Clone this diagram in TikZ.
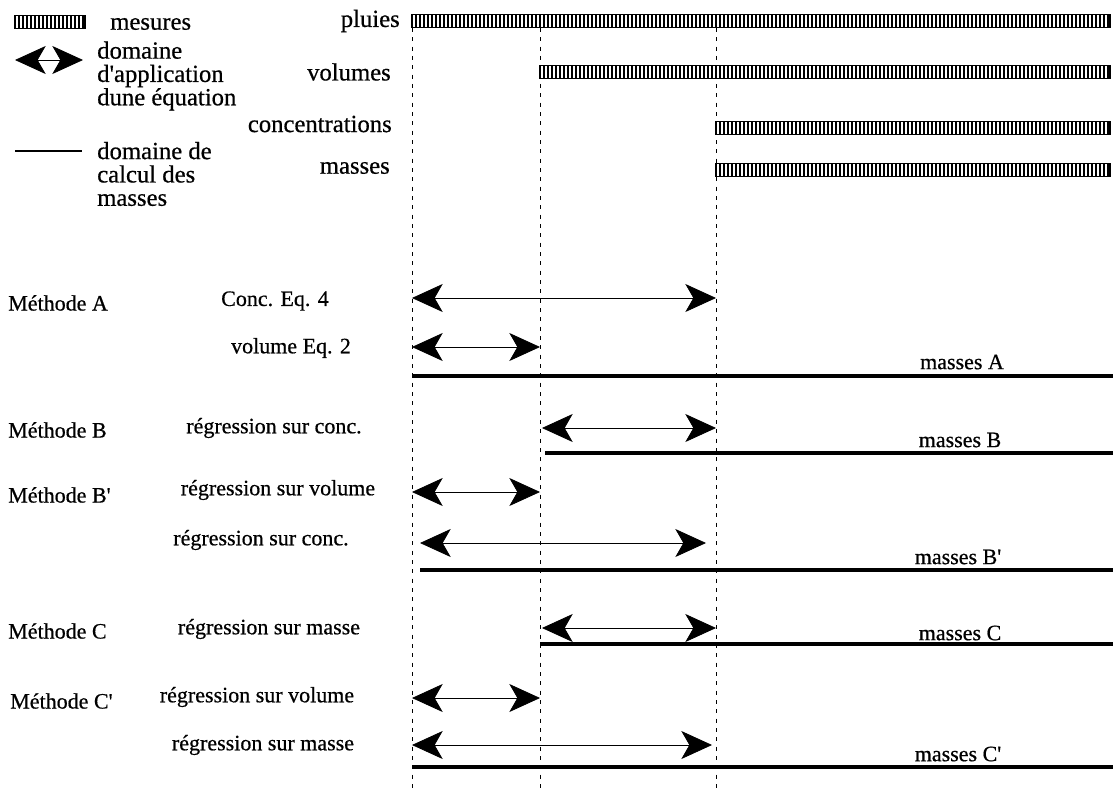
\documentclass[tikz,border=0pt]{standalone}
\usepackage{fontspec}
\setmainfont[Ligatures=TeXOff, FakeBold=0.6]{Liberation Serif}
\usetikzlibrary{arrows.meta}
\tikzset{
  lbl/.style={font=\fontsize{16.5}{18}\selectfont, inner sep=0pt},
  toplbl/.style={font=\fontsize{18.5}{17.5}\selectfont, inner sep=0pt, align=left},
  dom/.style={{Stealth[length=23pt,width=21pt,inset=6pt]}-{Stealth[length=23pt,width=21pt,inset=6pt]}, line width=0.6pt},
  calcline/.style={line width=2.5pt},
  gridline/.style={dash pattern=on 3pt off 4pt, line width=0.6pt},
}
% bande hachuree des mesures : x debut, x fin, y
\newcommand\mesbar[3]{%
  \draw[line width=1.3pt, fill=white] (#1,#3-6.5) rectangle (#2,#3+6.5);
  \pgfmathsetmacro\xsec{#1+4}
  \foreach \x in {#1,\xsec,...,#2} \draw[line width=1.6pt] (\x,#3-6.5) -- (\x,#3+6.5);
}
\begin{document}
\begin{tikzpicture}[x=0.75pt, y=-0.75pt]
  \useasboundingbox (0,0) rectangle (1113,792);
  % legende
  \mesbar{15}{85}{22}
  \node[toplbl, anchor=west] (mes) at (110,24) {mesures};
  \coordinate (lgA) at (15,60);
  \coordinate (lgB) at (83,60);
  \draw[dom] (lgA) -- (lgB);
  \node[toplbl, anchor=west] (dom) at (97,76) {domaine\\d'application\\dune équation};
  \coordinate (lgC) at (15,151);
  \coordinate (lgD) at (82,151);
  \draw[line width=2pt] (lgC) -- (lgD);
  \node[toplbl, anchor=west] (cal) at (97,174) {domaine de\\calcul des\\masses};
  % series mesurees
  \node[toplbl, anchor=east] (plu) at (400,21) {pluies};
  \node[toplbl, anchor=east] (vol) at (391,72) {volumes};
  \node[toplbl, anchor=east] (con) at (392,124) {concentrations};
  \node[toplbl, anchor=east] (mas) at (390,168) {masses};
  \mesbar{412}{1110}{21}
  \mesbar{540}{1110}{72}
  \mesbar{716}{1110}{128}
  \mesbar{716}{1110}{170}
  % reperes temporels
  \coordinate (g0t) at (412,28);  \coordinate (g0b) at (412,792);
  \coordinate (g1t) at (540,28);  \coordinate (g1b) at (540,792);
  \coordinate (g2t) at (716,28);  \coordinate (g2b) at (716,792);
  \draw[gridline] (g0t) -- (g0b);
  \draw[gridline] (g1t) -- (g1b);
  \draw[gridline] (g2t) -- (g2b);
  % methodes
  \draw
    (8,303) node[lbl, anchor=west] (mA){Méthode A}
    (275,301) node[lbl] (eA1){Conc. Eq. 4}
    (291,348) node[lbl] (eA2){volume Eq. 2}
    (962,362) node[lbl] (mAs){masses A}
    (8,430) node[lbl, anchor=west] (mB){Méthode B}
    (274,428) node[lbl] (eB1){régression sur conc.}
    (960,440) node[lbl] (mBs){masses B}
    (8,495) node[lbl, anchor=west] (mBp){Méthode B'}
    (278,490) node[lbl] (eBp1){régression sur volume}
    (261,540) node[lbl] (eBp2){régression sur conc.}
    (958,557) node[lbl] (mBps){masses B'}
    (8,631) node[lbl, anchor=west] (mC){Méthode C}
    (269,629) node[lbl] (eC1){régression sur masse}
    (960,633) node[lbl] (mCs){masses C}
    (10,701) node[lbl, anchor=west] (mCp){Méthode C'}
    (257,697) node[lbl] (eCp1){régression sur volume}
    (263,745) node[lbl] (eCp2){régression sur masse}
    (958,754) node[lbl] (mCps){masses C'};
  \path
    (412,298) coordinate (a1s) (716,298) coordinate (a1e)
    (412,347) coordinate (a2s) (540,347) coordinate (a2e)
    (412,376) coordinate (kAs) (1113,376) coordinate (kAe)
    (542,428) coordinate (b1s) (716,428) coordinate (b1e)
    (545,453) coordinate (kBs) (1113,453) coordinate (kBe)
    (412,492) coordinate (c1s) (540,492) coordinate (c1e)
    (420,543) coordinate (c2s) (706,543) coordinate (c2e)
    (420,570) coordinate (kBps) (1113,570) coordinate (kBpe)
    (542,628) coordinate (d1s) (716,628) coordinate (d1e)
    (540,644) coordinate (kCs) (1113,644) coordinate (kCe)
    (412,698) coordinate (e1s) (540,698) coordinate (e1e)
    (412,745) coordinate (e2s) (712,745) coordinate (e2e)
    (412,767) coordinate (kCps) (1113,767) coordinate (kCpe);
  \begin{scope}[dom]
    \draw (a1s) to (a1e);
    \draw (a2s) to (a2e);
    \draw (b1s) to (b1e);
    \draw (c1s) to (c1e);
    \draw (c2s) to (c2e);
    \draw (d1s) to (d1e);
    \draw (e1s) to (e1e);
    \draw (e2s) to (e2e);
  \end{scope}
  \begin{scope}[calcline]
    \draw (kAs) to (kAe);
    \draw (kBs) to (kBe);
    \draw (kBps) to (kBpe);
    \draw (kCs) to (kCe);
    \draw (kCps) to (kCpe);
  \end{scope}
\end{tikzpicture}
\end{document}
